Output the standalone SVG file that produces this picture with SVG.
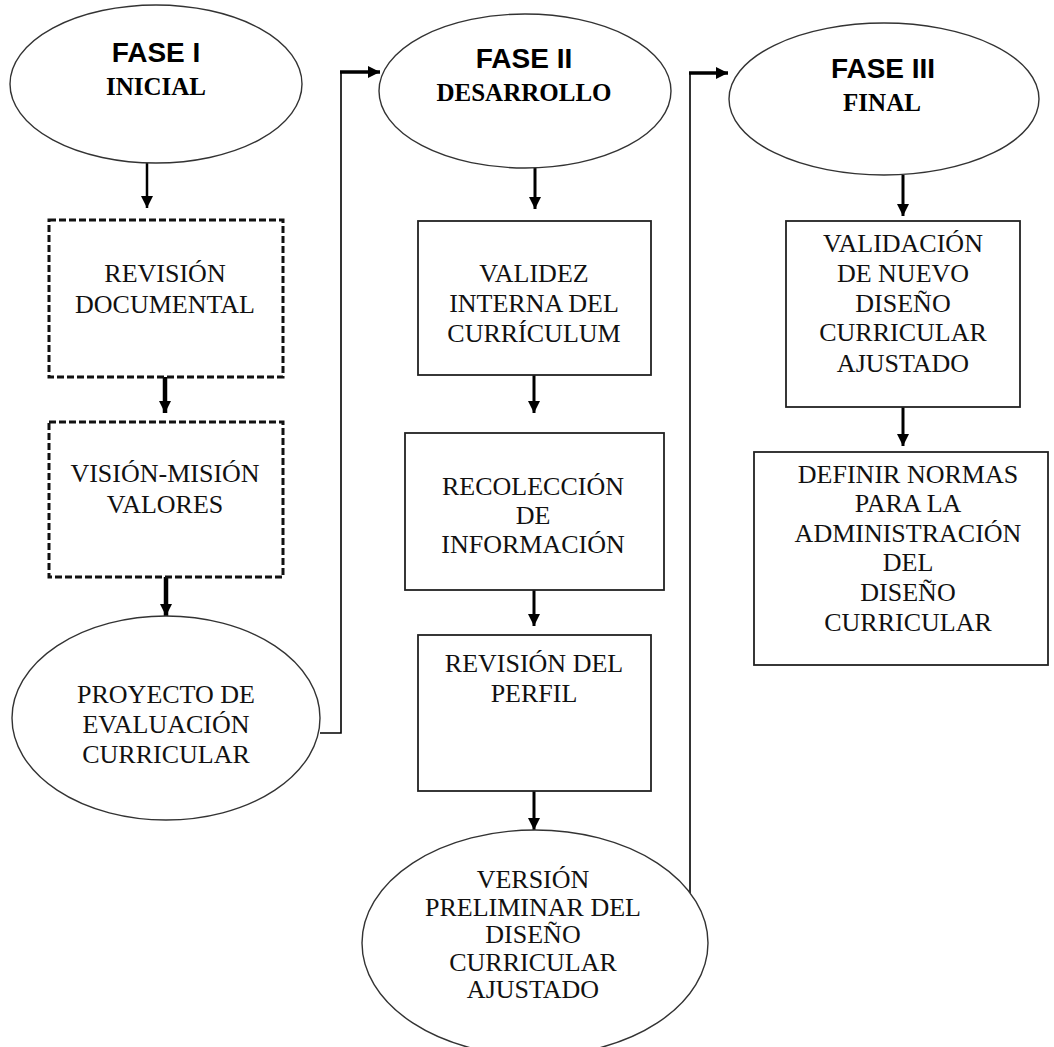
<svg xmlns="http://www.w3.org/2000/svg" width="1054" height="1047" viewBox="0 0 1054 1047">
<style>
.ell{fill:#fff;stroke:#333;stroke-width:1.4}
.box{fill:#fff;stroke:#222;stroke-width:1.8}
.dbox{fill:#fff;stroke:#111;stroke-width:3;stroke-dasharray:7 3}
.t{font-family:"Liberation Serif","Times New Roman",serif;font-size:26px;fill:#111;text-anchor:middle}
.h1{font-family:"Liberation Sans",Arial,sans-serif;font-size:28px;font-weight:bold;fill:#000;text-anchor:middle}
.h2{font-family:"Liberation Serif","Times New Roman",serif;font-size:25px;font-weight:bold;fill:#000;text-anchor:middle}
.c{fill:none;stroke:#000}
</style>
<defs>
<marker id="ah" viewBox="0 0 10 10" refX="10" refY="5" markerWidth="10" markerHeight="10" markerUnits="userSpaceOnUse" orient="auto">
<path d="M0,0 L10,5 L0,10 z" fill="#000"/>
</marker>
<marker id="ahs" viewBox="0 0 10 10" refX="10" refY="5" markerWidth="12" markerHeight="12" markerUnits="userSpaceOnUse" orient="auto">
<path d="M0,0 L10,5 L0,10 z" fill="#000"/>
</marker>
</defs>
<rect width="1054" height="1047" fill="#fff"/>
<g id="connectors">
<line class="c" x1="147" y1="163" x2="147" y2="208" stroke-width="2.5" marker-end="url(#ahs)"/>
<line class="c" x1="165" y1="377" x2="165" y2="413" stroke-width="4.5" marker-end="url(#ahs)"/>
<line class="c" x1="166" y1="577" x2="166" y2="616" stroke-width="4.5" marker-end="url(#ahs)"/>
<line class="c" x1="535" y1="168" x2="535" y2="209" stroke-width="3" marker-end="url(#ahs)"/>
<line class="c" x1="534" y1="375" x2="534" y2="413" stroke-width="3" marker-end="url(#ahs)"/>
<line class="c" x1="534" y1="590" x2="534" y2="626" stroke-width="3" marker-end="url(#ahs)"/>
<line class="c" x1="534" y1="791" x2="534" y2="830" stroke-width="3" marker-end="url(#ahs)"/>
<line class="c" x1="903" y1="175" x2="903" y2="216" stroke-width="3" marker-end="url(#ahs)"/>
<line class="c" x1="903" y1="407" x2="903" y2="446" stroke-width="3" marker-end="url(#ahs)"/>
<polyline class="c" points="320,733 341,733 341,72" stroke-width="1.6"/>
<line class="c" x1="340" y1="72" x2="380" y2="72" stroke-width="3.5" marker-end="url(#ahs)"/>
<polyline class="c" points="690,893 690,73" stroke-width="1.6"/>
<line class="c" x1="689" y1="73" x2="728" y2="73" stroke-width="3.5" marker-end="url(#ahs)"/>
</g>
<g id="fase1">
<ellipse class="ell" cx="156" cy="84" rx="146" ry="79"/>
<text class="h1" x="156" y="62">FASE I</text>
<text class="h2" x="156" y="95">INICIAL</text>
</g>
<g id="revision-documental">
<rect class="dbox" x="49" y="220" width="234" height="157"/>
<text class="t" x="165" y="282">REVISIÓN</text>
<text class="t" x="165" y="313">DOCUMENTAL</text>
</g>
<g id="vision-mision">
<rect class="dbox" x="49" y="422" width="234" height="155"/>
<text class="t" x="165" y="482">VISIÓN-MISIÓN</text>
<text class="t" x="165" y="513">VALORES</text>
</g>
<g id="proyecto">
<ellipse class="ell" cx="166" cy="718" rx="154" ry="102"/>
<text class="t" x="166" y="703">PROYECTO DE</text>
<text class="t" x="166" y="733">EVALUACIÓN</text>
<text class="t" x="166" y="763">CURRICULAR</text>
</g>
<g id="fase2">
<ellipse class="ell" cx="525" cy="91" rx="146" ry="77"/>
<text class="h1" x="524" y="68">FASE II</text>
<text class="h2" x="524" y="101">DESARROLLO</text>
</g>
<g id="validez">
<rect class="box" x="418" y="221" width="233" height="154"/>
<text class="t" x="534" y="282">VALIDEZ</text>
<text class="t" x="534" y="312">INTERNA DEL</text>
<text class="t" x="534" y="342">CURRÍCULUM</text>
</g>
<g id="recoleccion">
<rect class="box" x="405" y="433" width="259" height="157"/>
<text class="t" x="533" y="495">RECOLECCIÓN</text>
<text class="t" x="533" y="524">DE</text>
<text class="t" x="533" y="553">INFORMACIÓN</text>
</g>
<g id="perfil">
<rect class="box" x="418" y="635" width="233" height="156"/>
<text class="t" x="534" y="672">REVISIÓN DEL</text>
<text class="t" x="534" y="702">PERFIL</text>
</g>
<g id="version">
<ellipse class="ell" cx="535" cy="943" rx="173" ry="113"/>
<text class="t" x="533" y="888">VERSIÓN</text>
<text class="t" x="533" y="916">PRELIMINAR DEL</text>
<text class="t" x="533" y="943">DISEÑO</text>
<text class="t" x="533" y="971">CURRICULAR</text>
<text class="t" x="533" y="998">AJUSTADO</text>
</g>
<g id="fase3">
<ellipse class="ell" cx="884" cy="99" rx="155" ry="76"/>
<text class="h1" x="883" y="78">FASE III</text>
<text class="h2" x="882" y="111">FINAL</text>
</g>
<g id="validacion">
<rect class="box" x="786" y="221" width="234" height="186"/>
<text class="t" x="903" y="252">VALIDACIÓN</text>
<text class="t" x="903" y="282">DE NUEVO</text>
<text class="t" x="903" y="312">DISEÑO</text>
<text class="t" x="903" y="341">CURRICULAR</text>
<text class="t" x="903" y="372">AJUSTADO</text>
</g>
<g id="definir">
<rect class="box" x="754" y="452" width="294" height="213"/>
<text class="t" x="908" y="483">DEFINIR NORMAS</text>
<text class="t" x="908" y="512">PARA LA</text>
<text class="t" x="908" y="542">ADMINISTRACIÓN</text>
<text class="t" x="908" y="571">DEL</text>
<text class="t" x="908" y="601">DISEÑO</text>
<text class="t" x="908" y="631">CURRICULAR</text>
</g>
</svg>
